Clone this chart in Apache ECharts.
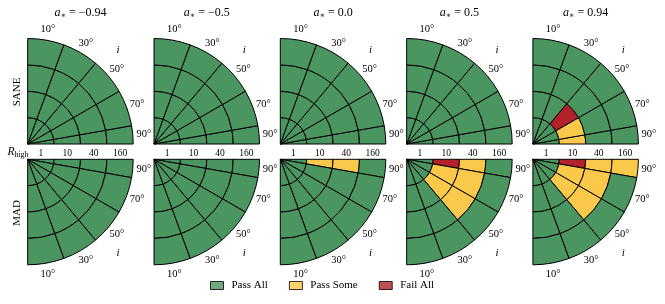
<!DOCTYPE html>
<html><head><meta charset="utf-8">
<script src="https://cdn.jsdelivr.net/npm/echarts@6/dist/echarts.min.js"></script>
<style>html,body{margin:0;padding:0;background:#fff}#c{width:665px;height:304px}</style>
</head><body><div id="c"></div>
<script>
// ---- data ----
const spinLabels = ['−0.94', '−0.5', '0.0', '0.5', '0.94'];
const modelLabels = ['SANE', 'MAD'];
const rHighLabels = ['1', '10', '40', '160'];
const inclinationLabels = ['10°', '30°', '50°', '70°', '90°'];
const inclinationEdges = [0, 20, 40, 60, 80, 90];
const statusNames = ['Pass All', 'Pass Some', 'Fail All'];
// rows: R_high = 1, 10, 40, 160 ; cols: i = 10°, 30°, 50°, 70°, 90°
// 0 = Pass All, 1 = Pass Some, 2 = Fail All
const sane_m094 = [[0,0,0,0,0],[0,0,0,0,0],[0,0,0,0,0],[0,0,0,0,0]];
const sane_m050 = [[0,0,0,0,0],[0,0,0,0,0],[0,0,0,0,0],[0,0,0,0,0]];
const sane_p000 = [[0,0,0,0,0],[0,0,0,0,0],[0,0,0,0,0],[0,0,0,0,0]];
const sane_p050 = [[0,0,0,0,0],[0,0,0,0,0],[0,0,0,0,0],[0,0,0,0,0]];
const sane_p094 = [[0,0,0,0,0],[0,0,2,1,1],[0,0,0,0,0],[0,0,0,0,0]];
const mad_m094 = [[0,0,0,0,0],[0,0,0,0,0],[0,0,0,0,0],[0,0,0,0,0]];
const mad_m050 = [[0,0,0,0,0],[0,0,0,0,0],[0,0,0,0,0],[0,0,0,0,0]];
const mad_p000 = [[0,0,0,0,0],[0,0,0,0,1],[0,0,0,0,1],[0,0,0,0,0]];
const mad_p050 = [[0,0,0,0,0],[0,0,1,1,2],[0,0,1,1,1],[0,0,0,0,0]];
const mad_p094 = [[0,0,0,0,0],[0,0,1,1,2],[0,0,1,1,1],[0,0,0,0,1]];

// ---- style / layout ----
const panels = [sane_m094, sane_m050, sane_p000, sane_p050, sane_p094,
                mad_m094, mad_m050, mad_p000, mad_p050, mad_p094];
const statusColors = ['#4b9560', '#fac94c', '#b3222a'];
const FONT = "'Liberation Serif', 'DejaVu Serif', serif";
const colX = [27.7, 154, 280.3, 406.7, 532.9];
const rowY = [144, 159.3];
const R = 105.5;
const labelR = 116.5;
const labelAngles = [10, 30, 50, 70, 85];

const polar = [], angleAxis = [], radiusAxis = [], series = [], graphic = [];
panels.forEach((grid, p) => {
  const row = Math.floor(p / 5), col = p % 5;
  const cx = colX[col], cy = rowY[row];
  polar.push({ center: [cx, cy], radius: R });
  angleAxis.push({
    polarIndex: p, type: 'value', min: 0, max: 360, startAngle: 0,
    clockwise: row === 1,
    axisLine: { show: false }, axisTick: { show: false },
    axisLabel: { show: false }, splitLine: { show: false }
  });
  radiusAxis.push({
    polarIndex: p, type: 'category', data: rHighLabels,
    axisLine: { show: false }, axisTick: { show: false }, splitLine: { show: false },
    axisLabel: { show: row === 1, margin: 1, fontSize: 9.5, fontFamily: FONT, color: '#000' }
  });
  // sectors stacked from i=90 (horizontal) toward i=0 (vertical)
  for (let s = inclinationLabels.length - 1; s >= 0; s--) {
    const width = inclinationEdges[s + 1] - inclinationEdges[s];
    series.push({
      type: 'bar', coordinateSystem: 'polar', polarIndex: p, stack: 'p' + p,
      name: 'p' + p + 's' + s, barCategoryGap: '0%', silent: true,
      data: grid.map(rowVals => ({
        value: width,
        itemStyle: { color: statusColors[rowVals[s]], borderColor: '#000', borderWidth: 1 }
      }))
    });
  }
  // angle labels
  labelAngles.forEach((a, k) => {
    const t = a * Math.PI / 180;
    graphic.push({
      type: 'text', x: cx + labelR * Math.sin(t),
      y: row === 0 ? cy - labelR * Math.cos(t) : cy + labelR * Math.cos(t),
      style: { text: inclinationLabels[k], align: 'center', verticalAlign: 'middle',
               fontSize: 10.5, fontFamily: FONT, fill: '#000' }
    });
  });
  const ti = 44 * Math.PI / 180, ir = 130;
  graphic.push({
    type: 'text', x: cx + ir * Math.sin(ti),
    y: row === 0 ? cy - ir * Math.cos(ti) : cy + ir * Math.cos(ti),
    style: { text: 'i', align: 'center', verticalAlign: 'middle',
             fontSize: 11, fontStyle: 'italic', fontFamily: FONT, fill: '#000' }
  });
});

// column titles
spinLabels.forEach((s, c) => {
  graphic.push({
    type: 'text', x: colX[c] + R / 2, y: 13,
    style: {
      text: '{a|a}{s|∗}{n| = ' + s + '}', align: 'center', verticalAlign: 'middle',
      fontFamily: FONT, fill: '#000',
      rich: {
        a: { fontSize: 12, fontStyle: 'italic', fontFamily: FONT, lineHeight: 14 },
        s: { fontSize: 8, fontFamily: FONT, lineHeight: 6, verticalAlign: 'bottom' },
        n: { fontSize: 12, fontFamily: FONT, lineHeight: 14 }
      }
    }
  });
});
// row labels
modelLabels.forEach((m, r) => {
  graphic.push({
    type: 'text', x: 17, y: r === 0 ? 92 : 213, rotation: Math.PI / 2,
    style: { text: m, align: 'center', verticalAlign: 'middle', fontSize: 11, fontFamily: FONT, fill: '#000' }
  });
});
graphic.push({
  type: 'text', x: 18, y: 152,
  style: {
    text: '{R|R}{h|high}', align: 'center', verticalAlign: 'middle', fontFamily: FONT, fill: '#000',
    rich: {
      R: { fontSize: 11.5, fontStyle: 'italic', fontFamily: FONT, lineHeight: 14 },
      h: { fontSize: 8, fontFamily: FONT, lineHeight: 6, verticalAlign: 'bottom' }
    }
  }
});

// legend proxies
statusNames.forEach((n, k) => {
  series.push({ type: 'scatter', coordinateSystem: 'polar', polarIndex: 0, name: n, data: [],
                itemStyle: { color: statusColors[k] } });
});

const chart = echarts.init(document.getElementById('c'), null, { renderer: 'canvas' });
chart.setOption({
  animation: false,
  polar, angleAxis, radiusAxis, series, graphic,
  legend: {
    left: 210, top: 280, padding: 0, icon: 'rect', itemWidth: 13, itemHeight: 8, itemGap: 21,
    data: statusNames.map((n, k) => ({ name: n, itemStyle: { color: statusColors[k], borderColor: '#000', borderWidth: 1 } })),
    textStyle: { fontSize: 11, fontFamily: FONT, color: '#000', padding: [0, 0, 0, 3] },
    selectedMode: false
  }
});
</script></body></html>
